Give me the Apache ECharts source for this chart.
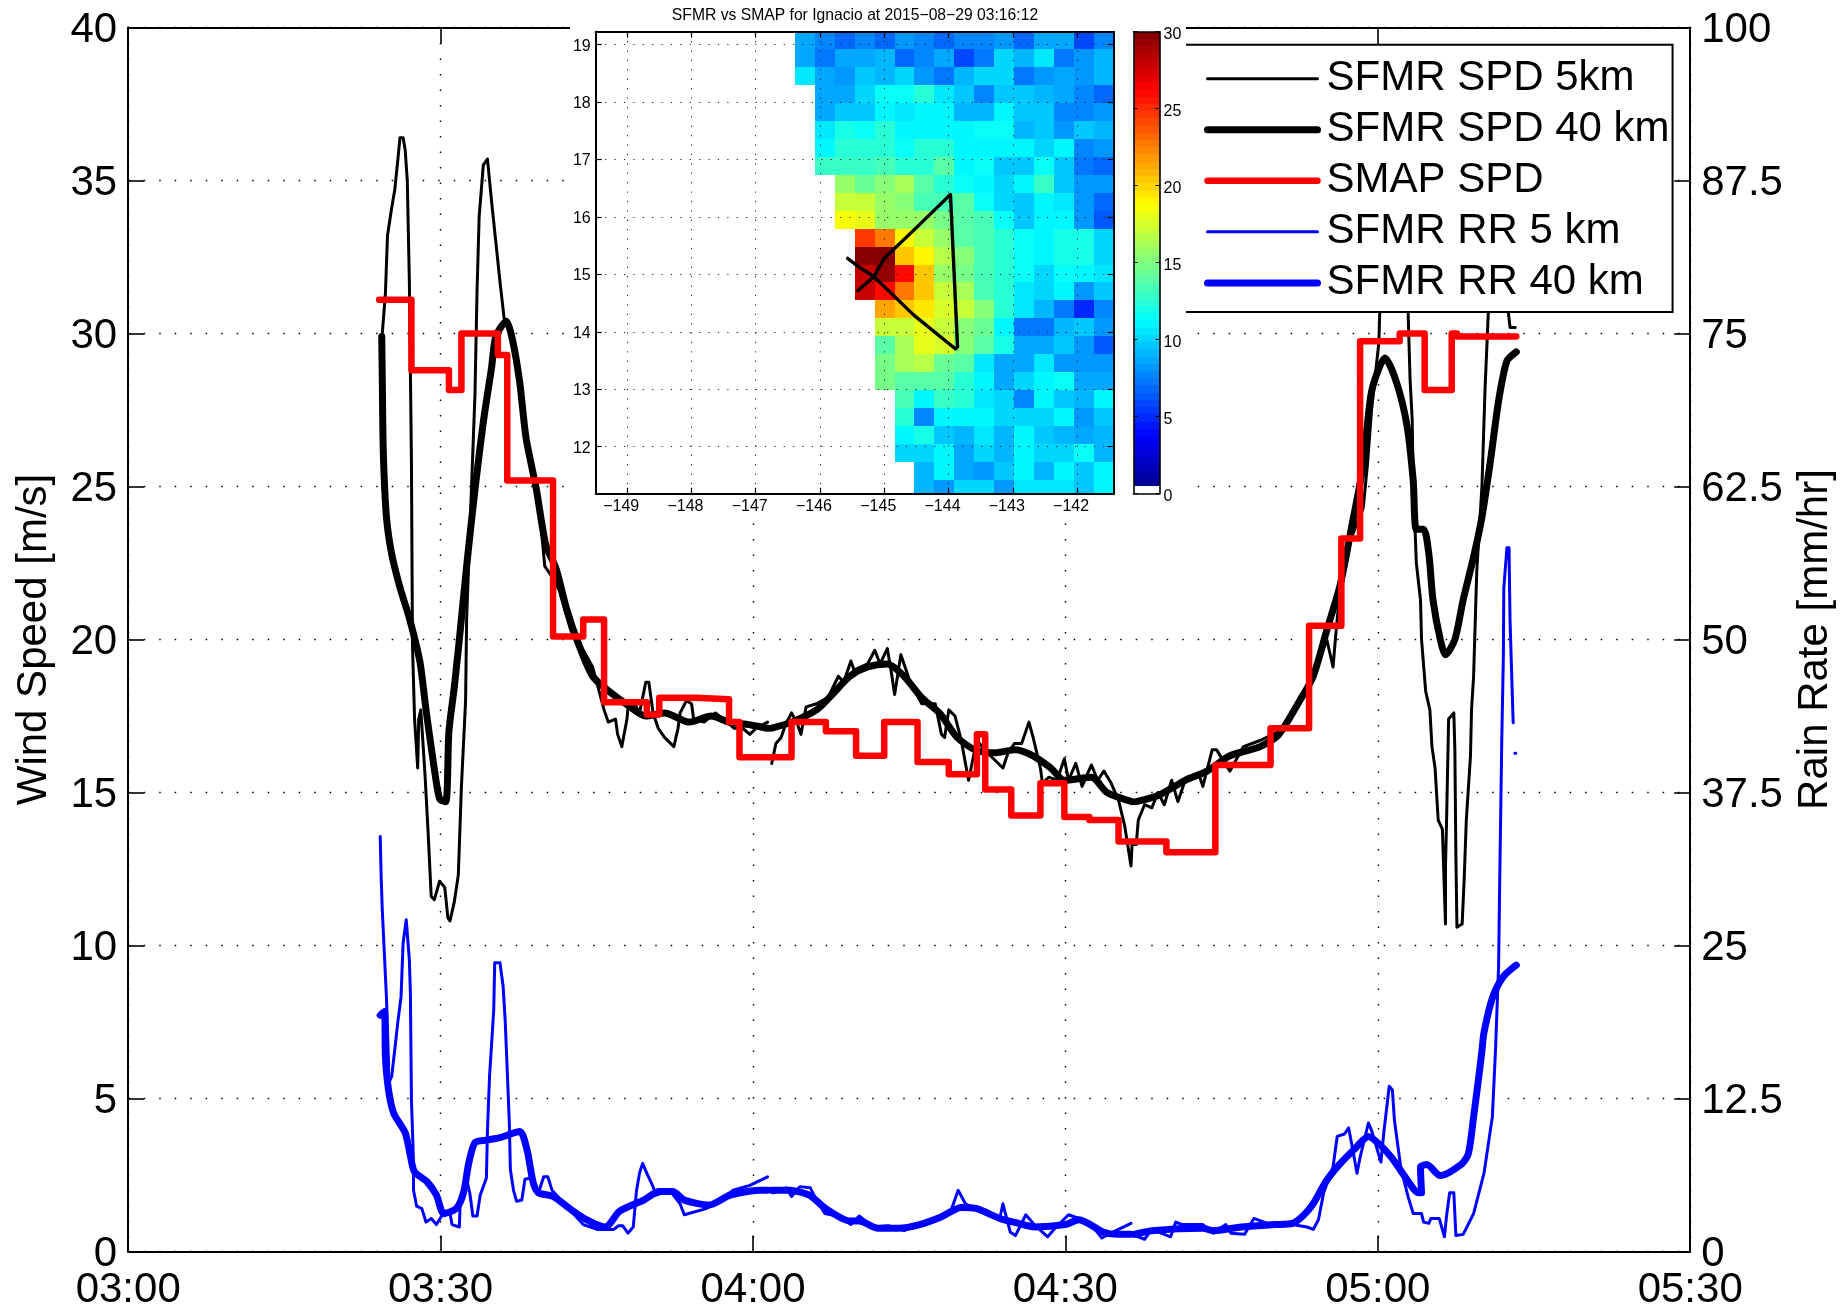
<!DOCTYPE html>
<html>
<head>
<meta charset="utf-8">
<style>html,body{margin:0;padding:0;background:#fff}#c{width:1841px;height:1307px}</style>
<script src="https://cdn.jsdelivr.net/npm/echarts@6/dist/echarts.min.js"></script>
</head>
<body>
<div id="c"></div>
<script>
// Times are minutes after midnight. Wind speed in m/s, rain rate in mm/hr.
const timeTicks = [180, 210, 240, 270, 300, 330];
const speedTickStep = 5;
const rainTickStep = 12.5;

const sfmrSpd5km = [[204.3,28.6],[204.4,30],[204.7,31.3],[204.9,33.2],[205.3,34.1],[205.6,34.7],[205.9,35.7],[206.1,36.4],[206.4,36.4],[206.6,36],[206.8,35],[207,31.7],[207.2,25.8],[207.3,19.8],[207.5,17.4],[207.8,15.8],[207.9,17.4],[208.1,17.7],[208.5,15.6],[208.8,13.7],[209.1,11.6],[209.4,11.5],[209.9,12.1],[210.4,11.9],[210.7,10.9],[210.9,10.8],[211.3,11.4],[211.7,12.3],[212,15.2],[212.4,18],[212.5,20.7],[213.3,28],[213.5,31.4],[213.7,33.8],[214.1,35.5],[214.5,35.7],[214.9,34.3],[215.3,33],[215.7,31.7],[216.1,30.5],[216.9,29.8],[217.6,28.4],[218.2,26.6],[219.2,24.9],[219.7,23.5],[220,22.4],[220.6,22.1],[221.4,21.6],[222.5,20.3],[223.3,19.9],[224.6,19.1],[225.7,17.7],[226.1,17.3],[226.8,17.4],[227,16.9],[227.4,16.5],[227.9,17.4],[228,17.8],[228.5,18],[229.1,17.6],[229.7,18.6],[230,18.6],[230.4,17.6],[230.9,17.1],[231.5,16.8],[232.4,16.5],[232.8,17.1],[233,17.6],[233.6,18],[234.1,17.9],[234.3,17.4],[235.3,17.3],[236.4,17.6],[237.5,17.3],[238.2,17.1],[239,17.1],[239.7,16.9],[240.3,17.1],[241.4,17.3],[241.6,null],[241.8,15.95],[242.2,16.6],[242.7,16.8],[243.1,17.2],[243.7,17.6],[244.2,17.3],[244.6,16.9],[245.1,17.8],[246.1,17.9],[247.2,18.1],[248.2,18.8],[248.7,18.6],[249.4,19.3],[249.7,19],[251,19.2],[251.7,19.65],[252.2,19.2],[252.9,19.7],[253.3,18.9],[253.6,18.2],[254.2,19.5],[255.1,18.6],[256.2,17.9],[257.5,17.9],[258.1,16.9],[258.4,16.8],[258.8,17.7],[259.4,17.5],[260,16.7],[260.7,15.4],[261,15.9],[261.5,16.7],[262.8,16.2],[264,15.8],[264.5,16.3],[265.1,16.6],[265.8,16.6],[266.5,17.3],[266.9,16.8],[267.6,15.8],[267.8,15.3],[268.4,15.5],[269.2,15.4],[269.9,16.1],[270.3,15.4],[271,15.95],[271.6,15.2],[272.5,15.9],[273.1,15.4],[273.7,15.7],[274.4,15.3],[275.1,14.75],[275.7,13.9],[276.3,12.6],[276.4,13.3],[276.8,13.3],[277,14.1],[277.6,14.6],[278.3,14.5],[278.9,15],[279.5,14.6],[280.2,15.4],[280.8,14.7],[281.5,15.4],[282.8,15.6],[283.2,15.2],[284.1,16.4],[284.5,16.4],[285.8,15.7],[287.1,16.5],[288.7,16.7],[290.5,17],[292.5,17.9],[293.8,18.8],[295.1,20],[295.7,19.1],[296,20.3],[296.7,22.8],[297.2,23.1],[298.6,24.3],[299,25.7],[299.4,27.5],[300.1,29.7],[300.2,30.8],[300.6,32.5],[301.3,33.2],[302.3,33.4],[302.9,30.8],[303.1,28.5],[303.3,27.2],[303.4,25.2],[303.7,22.5],[304.1,21.3],[304.2,20],[304.6,18.3],[305,17.7],[305.2,16.5],[305.5,15.8],[305.8,14.1],[306.2,13.8],[306.5,10.7],[306.5,12.6],[306.6,14],[306.8,17.4],[307.3,17.6],[307.4,16.4],[307.5,12.9],[307.6,10.6],[308.1,10.7],[308.3,12.2],[308.5,14.1],[308.9,16.2],[309,17.7],[309.2,18.8],[309.5,22.2],[310,25],[310.3,28.2],[310.6,30.6],[311.2,33],[312,32.5],[312.5,30.8],[312.7,30.2],[313.2,30.2]];

const sfmrSpd40km = [[204.35,29.9],[204.4,28.5],[204.5,26.1],[204.8,24],[205.3,22.8],[206.1,21.7],[207,20.7],[208,19.3],[208.6,17.7],[209.3,16],[209.9,14.8],[210.5,14.7],[210.8,17],[211.3,18.4],[211.8,20],[212.5,22.4],[213.3,24.9],[214.1,27.1],[214.9,28.9],[215.3,29.9],[216.3,30.4],[216.9,29.8],[217.6,28.4],[218.2,26.6],[219.2,24.9],[220.1,23.1],[221.1,22.3],[222.1,21],[223.3,19.8],[224.6,18.8],[226.2,18.3],[227.8,17.9],[229.7,17.5],[231.5,17.6],[233.9,17.3],[236,17.5],[237.7,17.3],[239.9,17.2],[241.4,17.1],[241.6,null],[241.8,17.1],[243.7,17.3],[246.1,17.7],[247.6,18.2],[249.3,18.8],[251,19.1],[252.9,19.2],[254.5,18.8],[256.2,18.1],[257.9,17.6],[259.6,16.8],[261.3,16.4],[263.3,16.3],[265.2,16.4],[266.9,16.2],[268.6,15.8],[269.9,15.4],[272.5,15.5],[274,15],[276.4,14.7],[276.6,null],[276.8,14.7],[278.9,14.9],[281.5,15.4],[283.6,15.7],[285.8,16.2],[288.7,16.5],[290.5,16.9],[292.5,18],[293.8,18.8],[295.1,20.3],[296.4,21.8],[297.5,23.7],[298.6,25.7],[299.4,28.1],[300.7,29.2],[301.8,28.4],[302.8,27],[303.4,25.2],[303.7,23.6],[304.4,23.6],[304.9,22.8],[305.3,21.3],[306,20],[306.5,19.5],[307.4,20],[308.2,21.3],[309.2,22.7],[310,24],[310.8,25.8],[311.6,27.8],[312.4,29.1],[313.3,29.4]];

const smapSpd = [[204.1,31.1],[207.2,28.8],[210.8,28.15],[212,30],[215.5,29.3],[216.4,25.2],[220.8,20.1],[223.7,20.65],[225.7,17.95],[229.8,17.55],[231,18.1],[234.5,18.05],[237.7,17.3],[238.7,16.15],[243.7,17.3],[247,17],[249.9,16.2],[252.6,17.3],[255.8,16],[258.8,15.6],[261.5,16.9],[262.3,15.1],[264.8,14.25],[267.6,15.3],[269.9,14.2],[272.3,14.1],[275.1,13.4],[279.7,13.05],[284.4,15.9],[289.7,17.1],[293.4,20.45],[296.5,23.3],[298.3,29.75],[302.1,30],[304.5,28.15],[307.1,30],[307.6,29.9],[313.3,29.9]];

const sfmrRr5km = [[204.2,33.9],[204.3,30.4],[204.4,27.9],[204.7,22.5],[204.8,20.8],[205,15.4],[204.9,13.5],[205.3,14.3],[205.6,16.5],[205.9,18.8],[206.2,20.8],[206.4,25.2],[206.7,27.1],[207,23.8],[207.1,21.1],[207.2,12.4],[207.4,7.2],[207.4,5],[207.7,3.7],[208.2,3.5],[208.6,2.4],[209.1,2.7],[209.6,2.2],[210.1,2.9],[210.9,3.1],[211.1,2.2],[211.8,2],[211.9,4.5],[212.5,5.9],[212.8,4.8],[213.1,2.9],[213.5,2.9],[213.8,4.6],[214.4,6],[214.5,9.9],[214.7,14.3],[215.1,19.7],[215.2,23.6],[215.7,23.6],[216,21.7],[216.2,18.9],[216.4,14.8],[216.6,10.5],[216.7,6.7],[217,5],[217.3,4.1],[217.8,4.2],[218.1,5.9],[218.6,6],[219.4,4.8],[219.9,6.1],[220.3,6.1],[220.7,5],[222.1,3.7],[223.7,2.2],[225.1,1.8],[226.6,1.8],[227.1,2.1],[227.5,2.1],[228,1.5],[228.5,2],[228.8,4.9],[229.1,6.4],[229.4,7.2],[229.8,6.4],[230.4,5.3],[230.7,4.6],[232,5],[233,3.9],[233.4,3],[235.5,3.5],[237.1,4.4],[238.1,5],[239.7,5.4],[241.4,6.1],[241.6,null],[241.9,4.8],[243.2,5.2],[243.7,4.5],[244.5,5.3],[245.5,5.2],[246.1,4.2],[246.9,3.1],[247.5,3],[248.3,2.9],[249.4,2.2],[250.2,2.9],[251.5,2],[253,2.1],[254.5,1.7],[256,2.2],[257.5,2.5],[259,3.3],[259.7,5],[260.4,3.9],[261.5,3.4],[262.5,3],[263.7,2.7],[264,3.9],[264.7,1.6],[265.2,1.3],[266.2,3],[267,2.2],[268.3,1.2],[269,1.9],[270.3,3],[271.3,2.7],[272.3,2.4],[273.5,1.1],[274.6,1.6],[276.3,2.3],[276.5,null],[276.7,1.3],[277.6,1],[278.3,1.8],[280.1,1.2],[280.6,2.4],[281.2,2.2],[283.2,2.2],[284.2,1.5],[285.4,2.2],[285.9,1.5],[287.2,1.4],[288.1,2.7],[289.4,2.3],[291.8,2.2],[293.2,2],[293.8,1.8],[294.3,2.6],[294.8,4.8],[295.7,6.9],[296.1,9.4],[296.8,9.6],[297.2,10.1],[297.6,8.3],[298,6.4],[298.3,7.7],[299.1,10.5],[299.4,9.9],[300.3,7.3],[300.6,9.9],[301.1,13.5],[301.4,13.2],[301.6,10.7],[302.2,6.9],[302.9,4.5],[303.4,3.1],[304.2,3.1],[304.4,2.4],[304.9,2.3],[305.1,2.7],[305.9,2.7],[306.4,1.2],[306.6,2.9],[306.9,4.8],[307.3,4.8],[307.5,1.3],[308.2,1.4],[309.2,3.1],[310.2,6.4],[311,11],[311.3,16.4],[311.6,23.3],[311.7,29.8],[311.9,41.5],[312.06,48.8],[312.1,54.2],[312.4,57.5],[312.6,57.5],[312.7,51.5],[313,43.2],[313.1,null],[313.15,40.7],[313.25,40.7]];

const sfmrRr40km = [[204.2,19.3],[204.6,19.6],[204.7,15.9],[205,13.2],[205.5,11.3],[206.6,9.7],[207.1,7.8],[207.5,6.5],[208.7,5.7],[209.6,4.6],[210.3,3.1],[211.5,3.5],[212.2,4.8],[212.7,7.2],[213.3,8.9],[214.4,9.1],[215.7,9.3],[217.6,9.8],[218.3,8.3],[218.9,5.6],[219.4,4.8],[220.8,4.5],[222.4,3.5],[224,2.6],[225.8,2],[227.2,3.3],[229.5,4.2],[231,4.9],[232.3,4.9],[233.4,4.2],[235.8,3.8],[237.8,4.6],[240.6,5],[241.4,5],[241.6,null],[241.8,5],[243.5,5],[245.4,4.6],[247,3.5],[249.3,2.5],[250.2,2.5],[252,1.9],[254,1.9],[256,2.2],[258,2.8],[260,3.6],[261.5,3.5],[263.7,2.7],[265.5,2.3],[267,2],[270,2.2],[271.3,2.6],[273.6,1.6],[275,1.4],[276.3,1.4],[276.45,null],[276.6,1.4],[278.3,1.7],[283.2,1.9],[284.2,1.7],[286.9,2],[290.2,2.2],[291.8,2.3],[292.8,2.9],[293.8,3.9],[295,5.7],[296.3,7.1],[297.8,8.4],[299.1,9.4],[300.1,8.8],[301.4,7.6],[302.7,6],[303.9,4.8],[304.2,4.8],[304.1,6.9],[304.7,7.1],[306,6.2],[308,7.1],[308.7,8],[309.2,11],[309.7,14.3],[310,16.4],[310.2,17.9],[311,20.7],[312,22.4],[313.3,23.4]];

// SMAP wind speed cells, read top row to bottom row, west column to east column.
const smapGridLonWest = -146.39, smapGridLonStep = 0.31;
const smapGridLatNorth = 19.238, smapGridLatStep = 0.3128;
const smapRows = [
[8.5,7.5,7,7.5,6.8,8,7.5,7,7.5,7.5,8.2,7,8.7,8.5,6,7.8],
[8.8,7.2,8.5,8.8,9.2,7,7.5,8.8,5.9,7.2,10,9,10.6,7.4,8,9],
[10.6,8.8,8.3,9.7,9.2,10,8,7.3,9.2,9.9,9.9,7.4,8,8.7,8.2,9.2],
[null,8.8,8.6,10.2,11.4,11.4,12.6,10.4,9.7,7.5,9.8,9.8,9.2,8.5,7.8,7],
[null,8.6,9.5,9.8,11.2,10.6,11.2,11.2,9,9,11.2,9.7,9.4,7.8,7.9,8.2],
[null,10.4,11.8,11.4,12.4,11.2,11.2,11.2,11.2,11.3,11.6,9,9.4,8.2,9.4,9],
[null,11.2,12.2,12.3,12.6,11.6,12.3,12.3,10.8,10.8,10.8,11.2,10.2,11,7.5,8.4],
[null,12.8,13,12.8,13.4,12.6,12.5,13.6,10.8,11.6,9.7,9.4,11.6,9.6,7.4,7],
[null,null,15.8,14.5,15.2,16.3,13.9,12.4,11.3,10.8,10.2,11,12.9,9.6,8.4,8.2],
[null,null,17,17,15.6,15.2,13.5,13.5,14,11.5,10.2,9.7,10.9,10.6,8,6.8],
[null,null,18.5,18,15.6,15.8,15.8,14.8,14,13.5,11.4,9.8,11,10.8,8.2,6.5],
[null,null,null,24.5,22.6,18.8,17,15.6,14,13.3,12.6,11.4,10.8,12,11.8,10],
[null,null,null,30,30,20.4,18.75,16.6,15.2,13.2,12.3,11.6,11.2,11.8,11.8,9.9],
[null,null,null,28,29.5,26,20.5,15.6,14.6,13.3,12.3,11.4,10.2,11.5,11,10.4],
[null,null,null,28,26.2,22.5,20.2,17,16,13.2,12.3,10.5,10.2,11.2,8.2,9.6],
[null,null,null,null,21.5,20.5,19.4,17.8,17,15,12.3,10.5,9,7.3,4.8,7.8],
[null,null,null,null,17,17,18,17,15,14.2,10.9,7.2,7.2,9,9.6,8.2],
[null,null,null,null,14,16,18,17.8,15,14,12,8.8,8.8,9.8,8.4,6.5],
[null,null,null,null,14.8,16,16.7,14.5,13.8,10.5,8.6,8.8,10.4,8,8,8],
[null,null,null,null,14.8,13.6,14,14,12.6,10.8,8.6,10.2,11,11.3,8.6,8.6],
[null,null,null,null,null,13.5,11.2,13,12.4,10.5,10.3,7.6,10.8,9.8,9,11],
[null,null,null,null,null,12.2,7.7,11.2,11.2,10.8,10,10,10,11.2,8.4,9.8],
[null,null,null,null,null,11.2,11.8,9.7,9.2,10.4,9.2,10.8,9.7,9.2,8.8,9],
[null,null,null,null,null,9.9,10.3,10.8,8.8,9.9,9,10.8,10.2,10,11.5,9.3],
[null,null,null,null,null,null,9.3,11,8.8,8.4,9.8,10.8,9.2,10.9,9.8,11.2],
[null,null,null,null,null,null,9.3,8,10,10,8.2,10.4,10.4,10.4,9.8,10.8]
];

// Flight track on the inset map: [longitude, latitude].
const flightTrack = [[-145.57,15.28],[-145.37,15.11],[-145.16,14.96],[-144.54,14.29],[-143.89,13.70],[-143.86,13.74],[-143.97,16.39],[-144.54,15.77],[-145.0,15.28],[-145.16,14.96],[-145.41,14.72]];
const lonTicks = [-149,-148,-147,-146,-145,-144,-143,-142];
const latTicks = [12,13,14,15,16,17,18,19];

const FONT = 'Liberation Sans';
const MAIN_FONT = 42;
const THIN = 3, THICK = 7, RED = 6.5;

function jetLevels() {
  const out = [];
  for (let i = 0; i < 64; i++) {
    const x = (i + 0.5) / 64;
    const ch = c => Math.round(255 * Math.max(0, Math.min(1, 1.5 - Math.abs(4 * x - c))));
    out.push(i === 0 ? '#ffffff' : `rgb(${ch(3)},${ch(2)},${ch(1)})`);
  }
  return out;
}
const JET = jetLevels();
const CBAR_MAX = 30;
const jetColor = v => JET[Math.min(63, Math.floor(v / CBAR_MAX * 64))];

function cellRect(params, api, lon0, lat0, lon1, lat1, fill) {
  const a = api.coord([lon0, lat0]), b = api.coord([lon1, lat1]);
  const cs = params.coordSys;
  const x0 = Math.round(Math.max(a[0], cs.x)), x1 = Math.round(Math.min(b[0], cs.x + cs.width));
  const y0 = Math.round(Math.max(a[1], cs.y)), y1 = Math.round(Math.min(b[1], cs.y + cs.height));
  if (x1 <= x0 || y1 <= y0) return null;
  return { type: 'rect', shape: { x: x0, y: y0, width: x1 - x0, height: y1 - y0 }, style: { fill: fill, stroke: null } };
}

const heatData = [];
smapRows.forEach((row, r) => row.forEach((v, c) => {
  if (v !== null) heatData.push([smapGridLonWest + (c + 0.5) * smapGridLonStep, smapGridLatNorth - (r + 0.5) * smapGridLatStep, v]);
}));
const barData = JET.map((_, i) => [0.5, (i + 0.5) / 64 * CBAR_MAX, i]);

const hhmm = v => {
  const h = Math.floor(v / 60), m = v % 60;
  return String(h).padStart(2, '0') + ':' + String(m).padStart(2, '0');
};
const minus = v => String(v).replace('-', '\u2212');

const lineBox = { show: true, onZero: false, lineStyle: { color: '#000', width: 2 } };
const lineThin = { show: true, onZero: false, lineStyle: { color: '#000', width: 1.6 } };
const dotted = { show: true, lineStyle: { color: '#000', width: 1.4, type: [1.5, 14] } };
const dottedInset = { show: true, lineStyle: { color: '#222', width: 1, type: [1.2, 8.2] } };
const tickMain = { show: true, inside: true, length: 16, lineStyle: { color: '#000', width: 1.6 } };
const tickInset = values => ({ show: true, inside: true, length: 6, lineStyle: { color: '#000', width: 1.2 }, customValues: values });
const richShift = { a: {} };

const insetZ = 6;

function lineSeries(name, data, color, width, yIndex, z, extra) {
  return Object.assign({
    name, type: 'line', data, xAxisIndex: 0, yAxisIndex: yIndex,
    showSymbol: false, symbol: 'none', smooth: false, connectNulls: false, z,
    lineStyle: { color, width, join: 'round', cap: 'round' },
    itemStyle: { color }, silent: true, animation: false
  }, extra || {});
}
const legendEntry = (name, width) => ({ name, lineStyle: { width }, itemStyle: { opacity: 0 } });

const option = {
  animation: false,
  backgroundColor: '#fff',
  title: {
    text: 'SFMR vs SMAP for Ignacio at 2015\u221208\u221229 03:16:12',
    left: 850, top: 3, textAlign: 'center', z: 9,
    textStyle: { fontFamily: FONT, fontSize: 15.7, fontWeight: 'normal', color: '#000' }
  },
  graphic: [{ type: 'rect', z: 4, silent: true, shape: { x: 570, y: 0, width: 616, height: 520 }, style: { fill: '#fff' } }],
  legend: {
    orient: 'vertical', left: 1172, top: 44.7, z: 3,
    data: [legendEntry('SFMR SPD 5km', THIN), legendEntry('SFMR SPD 40 km', THICK), legendEntry('SMAP SPD', RED), legendEntry('SFMR RR 5 km', THIN), legendEntry('SFMR RR 40 km', THICK)],
    itemWidth: 110, itemHeight: 40, itemGap: 9.05, padding: [13, 3, 8, 32],
    backgroundColor: '#fff', borderColor: '#000', borderWidth: 2, borderRadius: 0,
    selectedMode: false,
    textStyle: { fontFamily: FONT, fontSize: MAIN_FONT, color: '#000', lineHeight: 40, padding: [0, 0, 0, 4] }
  },
  grid: [
    { left: 128.2, top: 27.5, width: 1562, height: 1224, containLabel: false, outerBoundsMode: 'none' },
    { left: 595.7, top: 31.7, width: 518, height: 462, containLabel: false, outerBoundsMode: 'none', z: 5 },
    { left: 1133.5, top: 31.7, width: 26, height: 462, containLabel: false, outerBoundsMode: 'none', z: 5 }
  ],
  xAxis: [
    { gridIndex: 0, type: 'value', position: 'bottom', min: 180, max: 330, interval: 30,
      axisLine: lineBox, axisTick: tickMain, splitLine: dotted,
      axisLabel: { show: true, margin: 18, fontFamily: FONT, fontSize: MAIN_FONT, color: '#000', formatter: hhmm } },
    { gridIndex: 0, type: 'value', position: 'top', min: 180, max: 330, interval: 30,
      axisLine: lineBox, axisTick: tickMain, splitLine: { show: false }, axisLabel: { show: false } },
    { gridIndex: 1, type: 'value', position: 'bottom', min: -149.49, max: -141.43, z: insetZ,
      axisLine: lineBox, axisTick: tickInset(lonTicks), splitLine: dottedInset,
      axisLabel: { show: true, customValues: lonTicks, margin: 5, padding: [0, 12, 0, 0], fontFamily: FONT, fontSize: 16, color: '#000', formatter: minus } },
    { gridIndex: 1, type: 'value', position: 'top', min: -149.49, max: -141.43, z: insetZ,
      axisLine: lineBox, axisTick: tickInset(lonTicks), splitLine: { show: false }, axisLabel: { show: false } },
    { gridIndex: 2, type: 'value', position: 'bottom', min: 0, max: 1, z: insetZ,
      axisLine: lineThin, axisTick: { show: false }, splitLine: { show: false }, axisLabel: { show: false } },
    { gridIndex: 2, type: 'value', position: 'top', min: 0, max: 1, z: insetZ,
      axisLine: lineThin, axisTick: { show: false }, splitLine: { show: false }, axisLabel: { show: false } }
  ],
  yAxis: [
    { gridIndex: 0, type: 'value', position: 'left', min: 0, max: 40, interval: speedTickStep,
      name: 'Wind Speed [m/s]', nameLocation: 'middle', nameGap: 72.5, nameRotate: 90,
      nameTextStyle: { fontFamily: FONT, fontSize: MAIN_FONT, color: '#000' },
      axisLine: lineBox, axisTick: tickMain, splitLine: dotted,
      axisLabel: { show: true, margin: 11, padding: [5, 0, 0, 0], rich: richShift, fontFamily: FONT, fontSize: MAIN_FONT, color: '#000' } },
    { gridIndex: 0, type: 'value', position: 'right', min: 0, max: 100, interval: rainTickStep,
      name: 'Rain Rate [mm/hr]', nameLocation: 'middle', nameGap: 104, nameRotate: 90,
      nameTextStyle: { fontFamily: FONT, fontSize: MAIN_FONT, color: '#000' },
      axisLine: lineBox, axisTick: tickMain, splitLine: { show: false },
      axisLabel: { show: true, margin: 11, padding: [5, 0, 0, 0], rich: richShift, fontFamily: FONT, fontSize: MAIN_FONT, color: '#000' } },
    { gridIndex: 1, type: 'value', position: 'left', min: 11.18, max: 19.226, z: insetZ,
      axisLine: lineBox, axisTick: tickInset(latTicks), splitLine: dottedInset,
      axisLabel: { show: true, customValues: latTicks, margin: 5, padding: [3, 0, 0, 0], rich: richShift, fontFamily: FONT, fontSize: 16, color: '#000' } },
    { gridIndex: 1, type: 'value', position: 'right', min: 11.18, max: 19.226, z: insetZ,
      axisLine: lineBox, axisTick: tickInset(latTicks), splitLine: { show: false }, axisLabel: { show: false } },
    { gridIndex: 2, type: 'value', position: 'left', min: 0, max: CBAR_MAX, interval: 5, z: insetZ,
      axisLine: lineThin, axisTick: { show: true, inside: true, length: 4, lineStyle: { color: '#000', width: 1 } }, splitLine: { show: false }, axisLabel: { show: false } },
    { gridIndex: 2, type: 'value', position: 'right', min: 0, max: CBAR_MAX, interval: 5, z: insetZ,
      axisLine: lineThin, axisTick: { show: true, inside: true, length: 4, lineStyle: { color: '#000', width: 1 } }, splitLine: { show: false },
      axisLabel: { show: true, margin: 4, padding: [5, 0, 0, 0], rich: richShift, fontFamily: FONT, fontSize: 16, color: '#000' } }
  ],
  series: [
    lineSeries('SFMR SPD 5km', sfmrSpd5km, '#000', THIN, 0, 2),
    lineSeries('SFMR SPD 40 km', sfmrSpd40km, '#000', THICK, 0, 2.1, { smooth: 0.25 }),
    lineSeries('SMAP SPD', smapSpd, '#ff0000', RED, 0, 2.3, { step: 'end' }),
    lineSeries('SFMR RR 5 km', sfmrRr5km, '#0000ff', THIN, 1, 2.2),
    lineSeries('SFMR RR 40 km', sfmrRr40km, '#0000ff', THICK, 1, 2.25, { smooth: 0.25 }),
    {
      name: 'SMAP wind speed map', type: 'custom', xAxisIndex: 2, yAxisIndex: 2, z: 5, silent: true,
      coordinateSystem: 'cartesian2d', data: heatData, encode: { x: 0, y: 1 },
      renderItem: (params, api) => {
        const lon = api.value(0), lat = api.value(1);
        return cellRect(params, api, lon - smapGridLonStep / 2, lat + smapGridLatStep / 2,
          lon + smapGridLonStep / 2, lat - smapGridLatStep / 2, jetColor(api.value(2)));
      }
    },
    {
      name: 'Colour scale', type: 'custom', xAxisIndex: 4, yAxisIndex: 4, z: 5, silent: true,
      coordinateSystem: 'cartesian2d', data: barData, encode: { x: 0, y: 1 },
      renderItem: (params, api) => {
        const step = CBAR_MAX / 64, v = api.value(1);
        return cellRect(params, api, 0, v + step / 2, 1, v - step / 2, JET[api.value(2)]);
      }
    },
    {
      name: 'Flight track', type: 'line', xAxisIndex: 2, yAxisIndex: 2, data: flightTrack, z: 7,
      showSymbol: false, symbol: 'none', silent: true,
      lineStyle: { color: '#000', width: 3.4, join: 'round', cap: 'round' }
    }
  ]
};

const chart = echarts.init(document.getElementById('c'), null, { renderer: 'canvas', width: 1841, height: 1307 });
chart.setOption(option);
</script>
</body>
</html>
